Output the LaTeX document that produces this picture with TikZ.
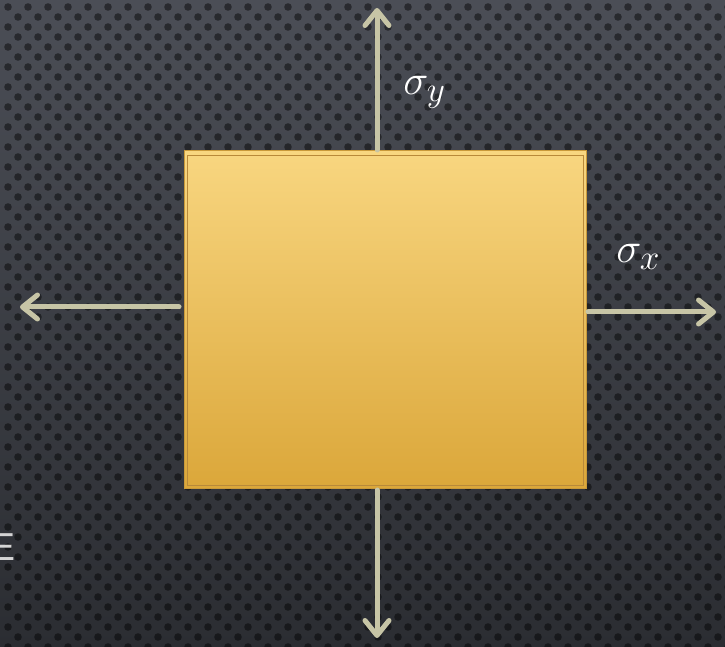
\documentclass[tikz,border=0pt]{standalone}
\usepackage{fontspec}
\newfontfamily\sansE{Liberation Sans}
\usetikzlibrary{arrows.meta}
\definecolor{bgtop}{HTML}{4B4E56}
\definecolor{bgbot}{HTML}{2B2D32}
\definecolor{boxtop}{HTML}{F8D680}
\definecolor{boxbot}{HTML}{DBA73A}
\definecolor{boxedge}{HTML}{C9993A}
\definecolor{boxinner}{HTML}{B8893A}
\definecolor{arrowcol}{HTML}{C7C5A6}
\definecolor{ecol}{HTML}{D4D4D4}
\tikzset{
  stress/.style={draw=arrowcol, line width=5pt, line cap=round,
    -{Straight Barb[length=15pt,width=24pt,line cap=round,line join=round]}},
  lbl/.style={text=white, inner sep=0pt, font=\Huge, scale=1.7},
}
\begin{document}
\begin{tikzpicture}[x=1pt,y=1pt]
\useasboundingbox (0,0) rectangle (725,646);
\clip (0,0) rectangle (725,646);
% background
\shade[top color=bgtop, bottom color=bgbot] (0,0) rectangle (725,646);
\foreach \r in {0,...,64}{
  \foreach \c in {0,...,36}{
    \pgfmathsetmacro{\xx}{8+20*\c+10*mod(\r,2)}
    \pgfmathsetmacro{\yy}{646-(7+10*\r)}
    \fill[black, opacity=0.45] (\xx,\yy) circle (3.8);
  }
}
% partial letter
\node[anchor=base east, inner sep=0pt, text=ecol, font=\sansE\fontsize{39}{46}\selectfont] (etext) at (16,86) {E};
% box
\node[draw=boxedge, line width=1pt, top color=boxtop, bottom color=boxbot,
      minimum width=402pt, minimum height=337pt, inner sep=0pt] (box) at (385,326.5) {};
\draw[boxinner, line width=1pt] ([shift={(4,-5)}]box.north west) rectangle ([shift={(-3,3)}]box.south east);
% arrows
\coordinate (topend) at (377,638);
\coordinate (botend) at (377,8);
\coordinate (leftend) at (20,339);
\coordinate (rightend) at (716,334);
\draw[stress] (377,496) -- (topend);
\draw[stress] (377,156) -- (botend);
\draw[stress] (179,339) -- (leftend);
\draw[stress] (588,334) -- (rightend);
% labels
\node[lbl, anchor=base west] (sy) at (403,551) {$\sigma_y$};
\node[lbl, anchor=base west] (sx) at (616,383) {$\sigma_x$};
\end{tikzpicture}
\end{document}
